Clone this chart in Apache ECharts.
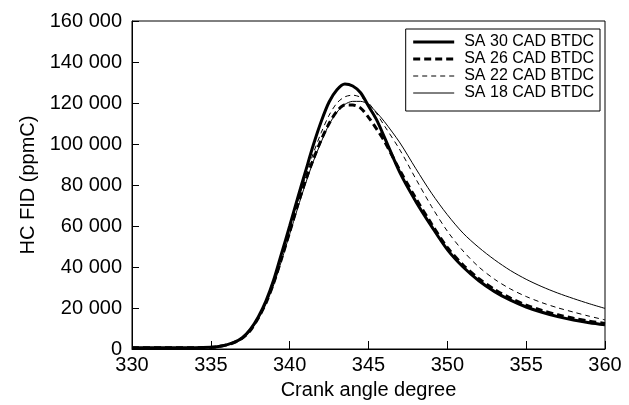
<!DOCTYPE html>
<html>
<head>
<meta charset="utf-8">
<script src="https://cdn.jsdelivr.net/npm/echarts@6/dist/echarts.min.js"></script>
<style>html,body{margin:0;padding:0;background:#fff}#c{width:629px;height:405px}</style>
</head>
<body>
<div id="c"></div>
<script>
const crankAngle = [330,332,334,335,335.5,336,336.5,337,337.5,338,338.5,339,339.5,340,340.5,341,341.5,342,342.5,343,343.5,344,344.5,345,345.5,346,347,348,349,350,351,352,353,354,355,356,357,358,359,360];
const sa30 = [600,600,600,800,1200,2000,3300,5500,9500,15500,23500,34000,47000,60000,73500,86500,99500,111000,120500,126500,129300,128300,125000,118500,112000,103500,85900,72000,59800,48500,40000,33300,28000,23800,20500,17900,15800,14100,12800,11800];
const sa26 = [600,600,600,800,1200,2000,3200,5300,9000,15000,22500,32500,44500,57000,70000,82000,92500,102000,110000,116000,119000,119000,117500,113000,107500,101500,87000,73500,61000,49500,41000,34300,29000,24800,21400,18800,16700,15000,13600,12500];
const sa22 = [600,600,600,800,1200,2000,3200,5400,9200,15200,23000,33000,45500,58500,71500,84000,95500,105500,114000,120000,123000,123800,122800,120000,115000,109000,97000,83000,69500,57500,47800,40000,34000,29300,25600,22600,20100,18000,16000,14200];
const sa18 = [600,600,600,800,1200,1900,3000,5000,8800,14500,22000,31500,43500,56000,68500,80500,91500,101000,109500,115500,119300,120800,120800,119300,115500,111000,100500,88000,76000,65500,56500,49500,43500,38300,34000,30400,27300,24600,22100,19800];
const seriesNames = ['SA 30 CAD BTDC','SA 26 CAD BTDC','SA 22 CAD BTDC','SA 18 CAD BTDC'];

function pairs(arr){ return crankAngle.map((x,i)=>[x,arr[i]]); }
const fmt = v => v === 0 ? '0' : String(v).replace(/\B(?=(\d{3})+(?!\d))/g,' ');
const FONT = '"Liberation Sans", Arial, sans-serif';

const styles = [
  {width:3, type:'solid'},
  {width:3, type:[7,4]},
  {width:1, type:[5,4]},
  {width:1, type:'solid'}
];
const allData = [sa30, sa26, sa22, sa18];
const legendText = {fontFamily:FONT, fontSize:16, color:'#000', padding:[0,0,0,5]};

const chart = echarts.init(document.getElementById('c'), null, {renderer:'canvas'});
chart.setOption({
  animation:false,
  backgroundColor:'#fff',
  grid:{left:132, right:24, top:21, bottom:48, show:true, borderColor:'#000', borderWidth:1, backgroundColor:'transparent'},
  legend:{
    orient:'vertical', right:29, top:29,
    backgroundColor:'#fff', borderColor:'#000', borderWidth:1,
    padding:[5,6,10,6], itemGap:1, itemWidth:41, itemHeight:16,
    itemStyle:{opacity:0},
    textStyle:legendText,
    data:seriesNames.map((n,i)=>({name:n, textStyle:legendText, lineStyle:{color:'#000', opacity:1, width:styles[i].width, type:styles[i].type}}))
  },
  xAxis:{
    type:'value', min:330, max:360, interval:5,
    name:'Crank angle degree', nameLocation:'middle', nameGap:31,
    nameTextStyle:{fontFamily:FONT, fontSize:20, color:'#000'},
    axisLine:{show:true, lineStyle:{color:'#000', width:1}},
    axisTick:{show:true, inside:true, length:8, lineStyle:{color:'#000'}},
    axisLabel:{fontFamily:FONT, fontSize:20, color:'#000', margin:6, formatter:v=>String(v)},
    splitLine:{show:false}
  },
  yAxis:{
    type:'value', min:0, max:160000, interval:20000,
    name:'HC FID (ppmC)', nameLocation:'middle', nameGap:94, nameRotate:90,
    nameTextStyle:{fontFamily:FONT, fontSize:20, color:'#000'},
    axisLine:{show:true, lineStyle:{color:'#000', width:1}},
    axisTick:{show:true, inside:true, length:7, lineStyle:{color:'#000'}},
    axisLabel:{fontFamily:FONT, fontSize:20, color:'#000', margin:10, formatter:fmt},
    splitLine:{show:false}
  },
  series: seriesNames.map((n,i)=>({
    name:n, type:'line', data:pairs(allData[i]), symbol:'none', smooth:0.3,
    lineStyle:{color:'#000', width:styles[i].width, type:styles[i].type},
    itemStyle:{color:'#000'},
    z: 10 - i
  }))
});
</script>
</body>
</html>
